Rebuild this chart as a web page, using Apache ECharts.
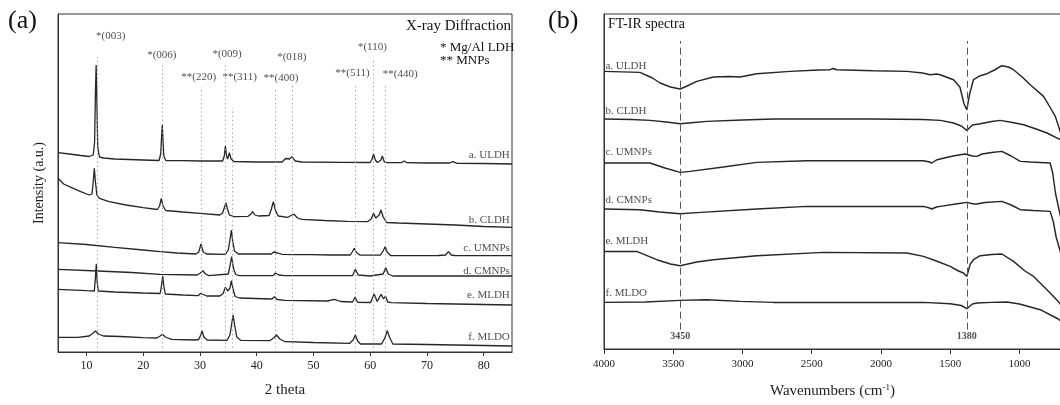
<!DOCTYPE html>
<html>
<head>
<meta charset="utf-8">
<script src="https://cdn.jsdelivr.net/npm/echarts@6/dist/echarts.min.js"></script>
<style>
  html, body { margin: 0; padding: 0; background: #fff; }
  #chart { width: 1060px; height: 405px; }
</style>
</head>
<body>
<div id="chart"></div>
<script>
// ---------- (a) XRD patterns: [2theta (deg), intensity (a.u., stacked)] ----------
const xrdULDH = [
  [5,199.3],[7,198],[9,196.5],[10.5,195.5],[11.2,197],[11.45,210],[11.6,260],[11.72,287],[11.85,250],[12.0,205],
  [12.3,195],[13,194],[15,193],[20,192],[22.8,191.5],[23.1,198],[23.25,215],[23.38,227],[23.5,212],[23.65,196],
  [24,191.5],[27,191.3],[30,191],[34.0,191],[34.3,196],[34.5,206],[34.7,196],[34.9,193],[35.2,199.3],[35.5,193],
  [36,190.5],[40,190],[44.5,190],[45.1,193.5],[45.4,195],[45.8,193],[46.2,195.3],[46.8,191],[48,190],[55,189.7],
  [60,189.5],[60.35,193],[60.6,198],[60.9,192],[61.3,189.5],[61.9,192],[62.15,196],[62.5,190],[63,189.3],[65.5,189.3],
  [66,191],[66.5,189.3],[70,189],[74,189],[74.6,190.3],[75.3,188.7],[80,188.5],[85,188]
];
const xrdCLDH = [
  [5,173.7],[6,168],[7,165.3],[9,160.3],[10.5,157],[11.0,158],[11.2,170],[11.4,183.7],[11.6,170],[11.85,157],
  [12.3,153.7],[14,150.3],[17,147],[20,144.3],[22.5,142.5],[22.9,146],[23.2,153.7],[23.5,146],[24,141.5],[27,140],
  [30,138.7],[33.5,137],[34.0,139],[34.35,145],[34.6,149.3],[34.85,143],[35.2,137],[36,135.3],[38.5,135.7],[39.0,138],
  [39.3,140.3],[39.7,137],[40.3,136],[42.2,136.5],[42.6,143],[42.95,150.3],[43.3,142],[43.8,136],[45.5,134.7],[46.2,137],
  [46.6,137.7],[47.2,134],[48,132.7],[52,131.5],[56,130.7],[59.5,130.3],[60.2,133],[60.6,138.7],[61.0,134],[61.3,133.5],
  [61.6,137],[61.9,142],[62.3,135],[62.9,129.5],[65,129],[70,128],[75,127],[80,125.5],[85,124.7]
];
const xrdUMNPs = [
  [5,109.3],[10,107.5],[15,104.7],[20,102],[23,100.3],[26,99],[29.3,98],[29.8,100],[30.2,108],[30.6,100],
  [31.2,98],[34.5,97.7],[35.0,102],[35.3,112],[35.55,122],[35.8,110],[36.1,101],[36.8,98],[40,98],[42.6,98],
  [43.0,100],[43.3,102],[43.7,99],[44.5,97.7],[47,97.3],[49.2,97.3],[49.4,99.3],[49.6,97.3],[53,97],[56.5,97],
  [56.9,100.5],[57.2,103.7],[57.6,99.5],[58.2,97],[61.8,96.8],[62.3,101],[62.65,105.3],[63.0,100],[63.6,96.5],[67,96.3],
  [72,96.5],[73.3,97],[73.8,100.3],[74.3,97],[75,96.3],[80,96.3],[85,96.3]
];
const xrdCMNPs = [
  [5,82.7],[12,81],[18,79.5],[23,77.7],[29.5,77],[30.1,79],[30.5,81.3],[31.0,78],[31.6,76.3],[35.0,78],
  [35.3,86],[35.6,95.3],[35.9,84],[36.3,77.5],[37,76.3],[42.9,76.3],[43.3,79],[43.5,80.3],[43.9,77],[45,76.3],
  [56.9,76.3],[57.4,82.7],[57.9,77],[60,76],[62.3,78],[62.75,84.3],[63.2,78],[64,76],[70,76],[85,76]
];
const xrdMLDH = [
  [5,62.7],[10,61.3],[11.4,61],[11.6,75],[11.75,88],[11.9,70],[12.1,61],[15,60],[20,59],[23.0,58.5],
  [23.25,67],[23.45,76],[23.65,66],[23.9,58],[27,57],[29.7,56.3],[30.1,58.5],[30.35,60.3],[30.6,57.5],[31.2,56],
  [33.5,56],[34.1,58.5],[34.5,64.7],[34.9,61],[35.1,60],[35.3,64],[35.55,71.3],[35.8,64],[36.2,55.5],[37,54],
  [42.7,53],[43.15,55.3],[43.6,52.5],[45,51.7],[52.5,51],[53.7,52.7],[54.8,50.5],[56.9,50],[57.35,54.7],[57.8,49.7],
  [60.1,49.5],[60.7,58],[61.25,50.5],[61.6,52],[61.95,57.7],[62.35,53],[62.7,56],[63.1,50],[63.7,49.3],[70,48.5],[85,47]
];
const xrdMLDO = [
  [5,14.7],[8.5,14.7],[10.5,16],[11.2,19],[11.6,21],[12.1,18],[13,16],[16,15.5],[20,14.3],[22.4,14],
  [23.0,16],[23.4,17.7],[23.9,15],[25,12.7],[29,12],[29.8,12.5],[30.15,17],[30.4,21],[30.7,15],[31.3,12],
  [34.8,11.7],[35.3,17],[35.6,28],[35.85,37],[36.15,26],[36.5,15],[37.2,11.7],[42.3,11.3],[43.0,14],[43.5,17],
  [44.1,13],[45,10.3],[50,9.5],[56.4,8.7],[57.0,12],[57.4,17],[57.8,11],[58.3,8],[62.0,8],[62.6,14],
  [63.0,21.3],[63.4,15],[64,8],[70,7.5],[85,6]
];

// Indexed reflections: [label, 2theta]
const reflectionLabels = ['*(003)', '*(006)', '**(220)', '*(009)', '**(311)', '**(400)', '*(018)', '**(511)', '*(110)', '**(440)'];
const reflectionTheta  = [11.9, 23.3, 30.3, 34.4, 35.7, 43.2, 46.3, 57.3, 60.6, 62.6];

const sampleNames = ['a. ULDH', 'b. CLDH', 'c. UMNPs', 'd. CMNPs', 'e. MLDH', 'f. MLDO'];
const xrdTicks = [10, 20, 30, 40, 50, 60, 70, 80];

// ---------- (b) FT-IR spectra: [wavenumber (cm-1), transmittance (a.u., stacked)] ----------
const irULDH = [
  [4000,277.6],[3740,276.6],[3650,271],[3595,266],[3520,262],[3450,260],[3400,263],[3330,267.6],[3210,272],[3100,272.5],
  [3017,272],[2897,275.3],[2656,277.6],[2450,279],[2367,279.3],[2345,280.5],[2320,279.3],[2054,278.3],[1813,277.6],[1700,276],
  [1645,274.3],[1600,275],[1573,274.3],[1476,269.3],[1430,262],[1400,245],[1380,239.3],[1360,255],[1332,269.3],[1283,273.3],
  [1235,275.3],[1180,279],[1127,283.3],[1080,282],[1043,279.3],[980,272],[922,264.3],[826,252.6],[780,242],[741,232.6],
  [700,215]
];
const irCLDH = [
  [4000,230],[3800,229.5],[3668,228.6],[3550,227],[3450,225.3],[3350,226.5],[3258,227.6],[3000,229],[2777,230],[2054,230],
  [1700,229.5],[1572,228.6],[1476,226],[1420,223],[1380,218.6],[1340,224],[1283,225.3],[1200,227.5],[1139,228.6],[1050,226.5],
  [970,224.3],[880,220],[801,216],[700,209]
];
const irUMNPs = [
  [4000,186],[3668,186],[3560,181],[3450,176.6],[3379,177.6],[3138,182],[2897,186.6],[2535,188.3],[1693,188.3],[1650,187],
  [1633,186],[1600,189],[1572,190],[1480,193],[1428,194.3],[1390,195],[1380,195],[1340,193],[1307,192.6],[1270,195],
  [1200,196.5],[1127,197.6],[1060,193],[994,187.6],[922,187],[850,186.5],[778,186],[760,176],[740,156],[700,130]
];
const irCMNPs = [
  [4000,140],[3740,139.3],[3600,137],[3450,135.3],[3300,136.6],[2897,140],[2535,142.6],[1693,142.6],[1650,141],[1633,140],
  [1600,142],[1572,142.6],[1460,145],[1380,146.6],[1330,145],[1307,145],[1250,146.5],[1127,147.6],[1060,144],[994,139.3],
  [900,138.5],[778,137.6],[755,127],[735,112],[700,95]
];
const irMLDH = [
  [4000,97.6],[3764,97.6],[3619,89.3],[3520,85],[3450,83.3],[3330,87],[3210,89.3],[2897,93.3],[2415,96.6],[1813,96],
  [1693,92.6],[1600,88],[1500,82.6],[1440,78],[1404,76],[1380,72.6],[1355,85],[1332,89.3],[1283,93.3],[1200,94.5],
  [1127,95],[1043,87.6],[960,78],[898,72.6],[778,56],[720,47.6],[700,44]
];
const irMLDO = [
  [4000,46.6],[3700,47],[3450,48.6],[3258,49.3],[3017,47.6],[2777,46.6],[1693,46.6],[1500,45.3],[1420,43.5],[1380,40.3],
  [1340,45],[1307,46],[1200,46.6],[1091,47],[1000,45],[850,39.3],[720,30],[700,28]
];

// Marked absorption bands
const bandLabels = ['3450', '1380'];
const bandWavenumbers = [3450, 1380];
const irTicks = [4000, 3500, 3000, 2500, 2000, 1500, 1000];

// ---------- styling ----------
const SERIF = '"Liberation Serif", "DejaVu Serif", serif';
const INK = '#262626';

const xrdSeries = [xrdULDH, xrdCLDH, xrdUMNPs, xrdCMNPs, xrdMLDH, xrdMLDO];
const irSeries = [irULDH, irCLDH, irUMNPs, irCMNPs, irMLDH, irMLDO];

// label anchors inside each panel (axis units)
const xrdNameY = [197, 132, 103.7, 81, 57, 14.7];
const irNameY = [282.6, 237.6, 196.6, 148.6, 107.6, 56];
const reflLabelAnchor = [[14.3, 316], [23.3, 297], [29.8, 275], [34.8, 298], [37.0, 275],
                         [44.3, 274], [46.2, 295], [56.9, 279], [60.4, 305], [65.3, 278]];
const reflLineTop = [295, 290, 265, 289, 244, 262, 267, 267, 294, 267];

function lineSeries(data, xi, width) {
  return {
    type: 'line', xAxisIndex: xi, yAxisIndex: xi, data: data,
    symbol: 'none', smooth: false, silent: true, animation: false,
    lineStyle: { color: INK, width: width }, z: 3
  };
}

const series = [];
xrdSeries.forEach(d => series.push(lineSeries(d, 0, 1.3)));
irSeries.forEach(d => series.push(lineSeries(d, 1, 1.45)));

// dotted reflection guides (a)
series.push({
  type: 'line', xAxisIndex: 0, yAxisIndex: 0, data: [], silent: true, animation: false,
  markLine: {
    silent: true, symbol: 'none', animation: false,
    label: { show: false },
    lineStyle: { color: '#9a9a9a', width: 1, type: [1.2, 3] },
    data: reflectionTheta.map((t, i) => [{ coord: [t, 0] }, { coord: [t, reflLineTop[i]] }])
  }
});
// reflection labels (a)
series.push({
  type: 'scatter', xAxisIndex: 0, yAxisIndex: 0, silent: true, animation: false,
  symbolSize: 1, itemStyle: { color: 'rgba(0,0,0,0)' },
  data: reflectionLabels.map((s, i) => [reflLabelAnchor[i][0], reflLabelAnchor[i][1], s]),
  label: {
    show: true, position: 'inside', formatter: p => p.data[2],
    fontFamily: SERIF, fontSize: 11, color: '#222'
  }
});
// sample names (a), right aligned
series.push({
  type: 'scatter', xAxisIndex: 0, yAxisIndex: 0, silent: true, animation: false,
  symbolSize: 1, itemStyle: { color: 'rgba(0,0,0,0)' },
  data: sampleNames.map((s, i) => [84.7, xrdNameY[i], s]),
  label: {
    show: true, position: 'left', distance: 0, formatter: p => p.data[2],
    fontFamily: SERIF, fontSize: 11, color: '#222'
  }
});
// dashed band guides (b)
series.push({
  type: 'line', xAxisIndex: 1, yAxisIndex: 1, data: [], silent: true, animation: false,
  markLine: {
    silent: true, symbol: 'none', animation: false,
    label: { show: false },
    lineStyle: { color: '#555', width: 1, type: [7, 4] },
    data: bandWavenumbers.map(w => [{ coord: [w, 19.3] }, { coord: [w, 308] }])
  }
});
// band labels (b)
series.push({
  type: 'scatter', xAxisIndex: 1, yAxisIndex: 1, silent: true, animation: false,
  symbolSize: 1, itemStyle: { color: 'rgba(0,0,0,0)' },
  data: bandLabels.map((s, i) => [bandWavenumbers[i], 12.3, s]),
  label: {
    show: true, position: 'inside', formatter: p => p.data[2],
    fontFamily: SERIF, fontSize: 10, fontWeight: 'bold', color: '#222'
  }
});
// sample names (b), left aligned
series.push({
  type: 'scatter', xAxisIndex: 1, yAxisIndex: 1, silent: true, animation: false,
  symbolSize: 1, itemStyle: { color: 'rgba(0,0,0,0)' },
  data: sampleNames.map((s, i) => [3993, irNameY[i], s]),
  label: {
    show: true, position: 'right', distance: 0, formatter: p => p.data[2],
    fontFamily: SERIF, fontSize: 11, color: '#222'
  }
});

function txt(text, pos, size) {
  return Object.assign({
    text: text, padding: 0,
    textStyle: { fontFamily: SERIF, fontSize: size, fontWeight: 'normal', color: '#111' }
  }, pos);
}

const option = {
  animation: false,
  backgroundColor: '#fff',
  title: [
    txt('(a)', { left: 8, top: 8 }, 26),
    txt('(b)', { left: 548, top: 8 }, 26),
    txt('X-ray Diffraction', { right: 549, top: 19 }, 15),
    txt('* Mg/Al LDH', { left: 440, top: 41 }, 13),
    txt('** MNPs', { left: 440, top: 54 }, 13),
    txt('FT-IR spectra', { left: 608, top: 17 }, 14)
  ],
  grid: [
    { left: 58, top: 14, width: 454, height: 338, show: true, borderColor: '#333', borderWidth: 1,
      outerBoundsMode: 'none', containLabel: false },
    { left: 604, top: 14, width: 457, height: 335, show: true, borderColor: '#333', borderWidth: 1,
      outerBoundsMode: 'none', containLabel: false }
  ],
  xAxis: [
    {
      gridIndex: 0, type: 'value', min: 5, max: 85, interval: 10,
      axisLine: { show: true, lineStyle: { color: '#333', width: 1 } },
      axisTick: { show: true, inside: false, length: 4, lineStyle: { color: '#333' },
                  customValues: xrdTicks },
      axisLabel: { customValues: xrdTicks, margin: 8, fontFamily: SERIF, fontSize: 12, color: '#222' },
      splitLine: { show: false },
      name: '2 theta', nameLocation: 'middle', nameGap: 31,
      nameTextStyle: { fontFamily: SERIF, fontSize: 15, color: '#222' }
    },
    {
      gridIndex: 1, type: 'value', min: 700, max: 4000, inverse: true,
      axisLine: { show: true, lineStyle: { color: '#333', width: 1 } },
      axisTick: { show: true, inside: false, length: 5, lineStyle: { color: '#333' },
                  customValues: irTicks },
      axisLabel: { customValues: irTicks, margin: 10, fontFamily: SERIF, fontSize: 11, color: '#222',
                   formatter: v => String(v) },
      splitLine: { show: false },
      name: '{n|Wavenumbers (cm}{s|-1}{n|)}', nameLocation: 'middle', nameGap: 34,
      nameTextStyle: {
        rich: {
          n: { fontFamily: SERIF, fontSize: 15, color: '#222' },
          s: { fontFamily: SERIF, fontSize: 9, color: '#222', verticalAlign: 'top', padding: [0, 0, 8, 0] }
        }
      }
    }
  ],
  yAxis: [
    {
      gridIndex: 0, type: 'value', min: 0, max: 338,
      axisLine: { show: true, lineStyle: { color: '#333', width: 1 } },
      axisTick: { show: false }, axisLabel: { show: false }, splitLine: { show: false },
      name: 'Intensity (a.u.)', nameLocation: 'middle', nameGap: 12, nameRotate: 90,
      nameTextStyle: { fontFamily: SERIF, fontSize: 14, color: '#222' }
    },
    {
      gridIndex: 1, type: 'value', min: 0, max: 335,
      axisLine: { show: true, lineStyle: { color: '#333', width: 1 } },
      axisTick: { show: false }, axisLabel: { show: false }, splitLine: { show: false }
    }
  ],
  series: series
};

const chart = echarts.init(document.getElementById('chart'), null, { renderer: 'canvas' });
chart.setOption(option);
</script>
</body>
</html>
